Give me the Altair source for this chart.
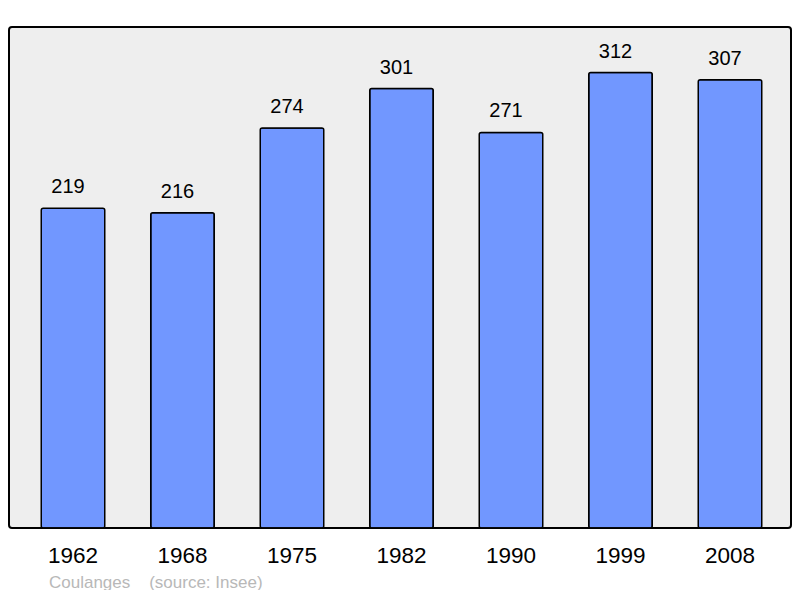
import pandas as pd
import altair as alt

years = ["1962", "1968", "1975", "1982", "1990", "1999", "2008"]
population = [219, 216, 274, 301, 271, 312, 307]
commune = "Coulanges"
source = "(source: Insee)"

df = pd.DataFrame({"year": years, "pop": population})

FONT = "Liberation Sans"

x = alt.X("year:N", sort=years, title=None,
          scale=alt.Scale(paddingInner=0.42, paddingOuter=0.2945, range=[0, 785]),
          axis=alt.Axis(labelAngle=0, labelFontSize=22.5, labelColor="black",
                        labelFont=FONT, domain=False, ticks=False, labelPadding=16))
y = alt.Y("pop:Q", title=None, scale=alt.Scale(domain=[0, 343.2], nice=False),
          axis=None)

bars = alt.Chart(df).mark_bar(
    color="#7197ff", stroke="black", strokeWidth=1.5, cornerRadius=2
).encode(x=x, y=y)

# value labels sit slightly left of the bar centre, as in the original
labels = alt.Chart(df).mark_text(
    baseline="bottom", dx=-5, dy=-11, fontSize=20, font=FONT, color="black"
).encode(x=x, y=y, text="pop:Q")

chart = (bars + labels).properties(
    width=782,
    height=501,
    padding={"left": 1, "top": 19, "right": 1, "bottom": 62},
    autosize=alt.AutoSizeParams(type="none"),
    title=alt.TitleParams(
        commune + "\u00a0\u00a0\u00a0\u00a0" + source,
        orient="bottom", anchor="start", dx=40, offset=8,
        fontSize=17, font=FONT, fontWeight="normal", color="#b8b8b8",
    ),
).configure(background="white").configure_view(
    fill="#eeeeee", stroke="black", strokeWidth=2, cornerRadius=3
)

chart.save("out.html", embed_options={"renderer": "svg", "actions": False})
